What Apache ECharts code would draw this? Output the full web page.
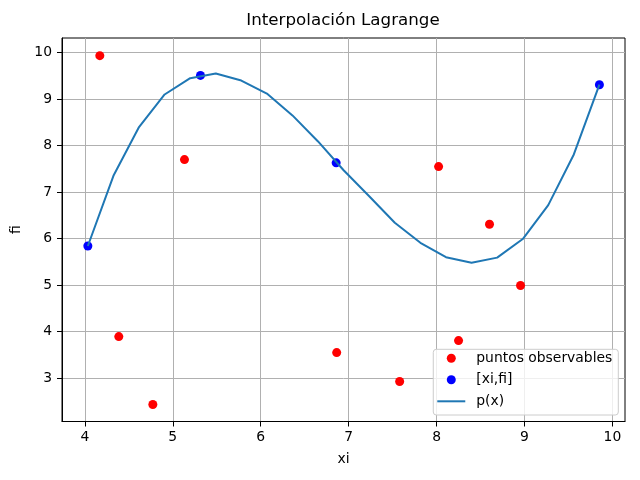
<!DOCTYPE html>
<html>
	<head>
		<meta charset="utf-8">
		<title>Interpolación Lagrange</title>
		<style type="text/css">
			* {
				margin: 0;
				padding: 0;
			}

			html,
			body {
				width: 100%;
				height: 100%;
				background: #ffffff;
			}

			#box {
				width: 640px;
				height: 480px;
			}
		</style>
	</head>
	<body>
		<div id="box"></div>
		<script src="https://cdn.jsdelivr.net/npm/echarts@6/dist/echarts.min.js"></script>
		<script type="text/javascript">
			// puntos observables
			var redX = [4.17, 4.386, 4.773, 5.133, 6.864, 7.58, 8.023, 8.25, 8.602, 8.955]
			var redY = [9.935, 3.892, 2.43, 7.70, 3.548, 2.925, 7.548, 3.806, 6.308, 4.99]

			// nodos [xi,fi]
			var blueX = [4.034, 5.315, 6.858, 9.852]
			var blueY = [5.84, 9.51, 7.63, 9.31]

			// p(x) muestreado
			var lineX = [4.034, 4.325, 4.616, 4.907, 5.198, 5.489, 5.779, 6.070, 6.361, 6.652, 6.943,
				7.234, 7.525, 7.816, 8.107, 8.398, 8.689, 8.980, 9.270, 9.561, 9.852]
			var lineY = [5.84, 7.35, 8.40, 9.10, 9.45, 9.55, 9.40, 9.12, 8.65, 8.09, 7.47,
				6.91, 6.34, 5.91, 5.60, 5.48, 5.59, 5.99, 6.72, 7.81, 9.31]

			var xTicks = [4, 5, 6, 7, 8, 9, 10]
			var yTicks = [3, 4, 5, 6, 7, 8, 9, 10]

			function pares(xs, ys) {
				let out = []
				for (let i = 0; i < xs.length; i++) {
					out.push([xs[i], ys[i]])
				}
				return out
			}

			// small circle inside a 28x14 box, so the legend marker is not stretched
			var dotIcon = 'path://M0,0M28,14M18.5,7A4.5,4.5,0,1,1,9.5,7A4.5,4.5,0,1,1,18.5,7Z'
			// plain line handle for p(x)
			var lineIcon = 'path://M0,6L28,6L28,8L0,8Z'

			var font = 'DejaVu Sans'

			var myChart = echarts.init(document.getElementById('box'));
			var option = {
				animation: false,
				backgroundColor: '#ffffff',
				title: {
					text: 'Interpolación Lagrange',
					left: 343,
					top: 12,
					padding: 0,
					textAlign: 'center',
					textStyle: {
						fontFamily: font,
						fontSize: 16.7,
						fontWeight: 'normal',
						color: '#000000'
					}
				},
				grid: {
					left: 62,
					right: 15,
					top: 38,
					bottom: 58.5,
					outerBoundsMode: 'none',
					show: true,
					backgroundColor: 'transparent',
					borderColor: '#000000',
					borderWidth: 1
				},
				legend: {
					orient: 'vertical',
					right: 21.7,
					top: 349.3,
					padding: [2, 6, 6.7, 4],
					itemWidth: 28,
					itemHeight: 14,
					itemGap: 7.5,
					backgroundColor: 'rgba(255,255,255,0.8)',
					borderColor: '#cccccc',
					borderWidth: 1,
					borderRadius: 3,
					textStyle: {
						fontFamily: font,
						fontSize: 13.9,
						color: '#000000',
						padding: [0, 0, 0, 6]
					},
					data: [
						{ name: 'puntos observables', icon: dotIcon },
						{ name: '[xi,fi]', icon: dotIcon },
						{ name: 'p(x)', icon: lineIcon }
					]
				},
				xAxis: {
					type: 'value',
					min: 3.74,
					max: 10.143,
					name: 'xi',
					nameLocation: 'middle',
					nameGap: 31,
					nameTextStyle: {
						fontFamily: font,
						fontSize: 13.9,
						color: '#000000'
					},
					axisLine: {
						show: true,
						onZero: false,
						lineStyle: { color: '#000000', width: 1 }
					},
					axisTick: {
						show: true,
						length: 5,
						customValues: xTicks,
						lineStyle: { color: '#000000', width: 1 }
					},
					axisLabel: {
						margin: 9,
						customValues: xTicks,
						fontFamily: font,
						fontSize: 13.9,
						color: '#000000'
					},
					splitLine: {
						show: true,
						lineStyle: { color: '#b0b0b0', width: 1 }
					}
				},
				yAxis: {
					type: 'value',
					min: 2.065,
					max: 10.315,
					name: 'fi',
					nameLocation: 'middle',
					nameGap: 34,
					nameRotate: 90,
					nameTextStyle: {
						fontFamily: font,
						fontSize: 13.9,
						color: '#000000'
					},
					axisLine: {
						show: true,
						onZero: false,
						lineStyle: { color: '#000000', width: 1 }
					},
					axisTick: {
						show: true,
						length: 5,
						customValues: yTicks,
						lineStyle: { color: '#000000', width: 1 }
					},
					axisLabel: {
						margin: 10,
						customValues: yTicks,
						fontFamily: font,
						fontSize: 13.9,
						color: '#000000'
					},
					splitLine: {
						show: true,
						lineStyle: { color: '#b0b0b0', width: 1 }
					}
				},
				series: [{
						name: 'puntos observables',
						type: 'scatter',
						symbol: 'circle',
						symbolSize: 9,
						itemStyle: { color: '#ff0000', opacity: 1 },
						data: pares(redX, redY)
					},
					{
						name: '[xi,fi]',
						type: 'scatter',
						symbol: 'circle',
						symbolSize: 9,
						itemStyle: { color: '#0000ff', opacity: 1 },
						data: pares(blueX, blueY)
					},
					{
						name: 'p(x)',
						type: 'line',
						symbol: 'none',
						lineStyle: { color: '#1f77b4', width: 2 },
						itemStyle: { color: '#1f77b4' },
						data: pares(lineX, lineY)
					}
				]
			};
			myChart.setOption(option);
		</script>
	</body>
</html>
